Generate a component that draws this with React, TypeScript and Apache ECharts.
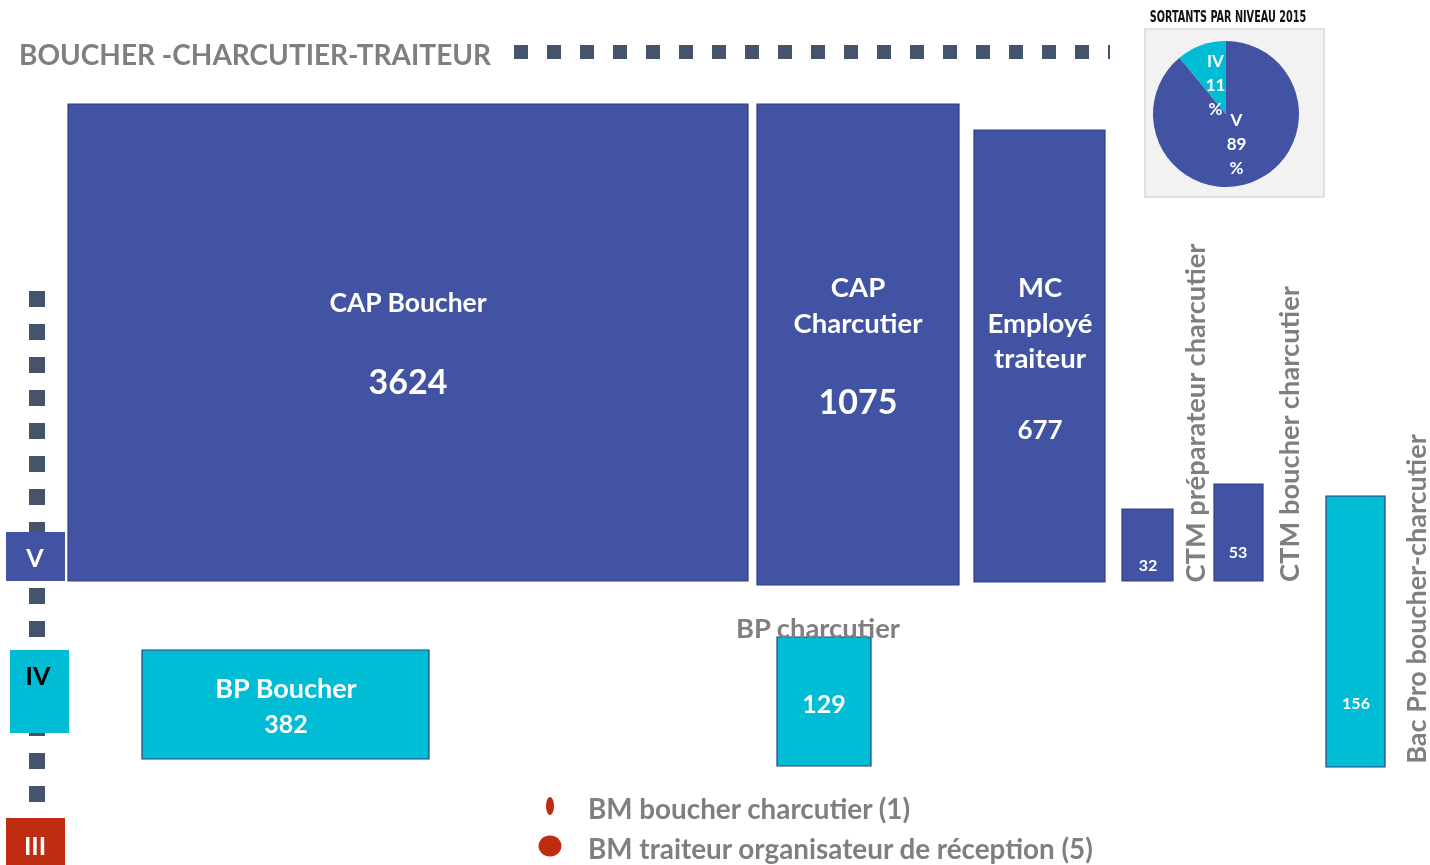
import React, { useEffect, useRef } from "react";
import * as echarts from "echarts";

// ---- data ----
const title = "BOUCHER -CHARCUTIER-TRAITEUR";
const names = [
  "CAP Boucher",
  "CAP\nCharcutier",
  "MC\nEmployé\ntraiteur",
  "CTM préparateur charcutier",
  "CTM boucher charcutier",
  "BP Boucher",
  "BP charcutier",
  "Bac Pro boucher-charcutier",
];
const values = [3624, 1075, 677, 32, 53, 382, 129, 156];
const levels = ["V", "V", "V", "V", "V", "IV", "IV", "IV"];
const levelNames = ["V", "IV", "III"];
const otherNames = ["BM boucher charcutier", "BM traiteur organisateur de réception"];
const otherValues = [1, 5];
const pieTitle = "SORTANTS PAR NIVEAU 2015";
const pieNames = ["V", "IV"];
const pieValues = [89, 11];

// ---- styles / layout ----
const BLUE = "#4153A2";
const CYAN = "#00BCD4";
const RED = "#BE2D12";
const GRAY = "#7F7F7F";
const DASH = "#44546A";
const FONT = "Lato, 'Open Sans', sans-serif";
const levelColor: Record<string, string> = { V: BLUE, IV: CYAN, III: RED };

type Lay = {
  box: number[];
  label: { x: number; y: number; size: number; lh?: number; rotate?: boolean; outside?: boolean };
  val: { x: number; y: number; size: number };
};
const layout: Lay[] = [
  { box: [68, 104, 748, 581], label: { x: 408, y: 302, size: 26.5 }, val: { x: 408, y: 380, size: 34 } },
  { box: [757, 104, 959, 585], label: { x: 858, y: 304, size: 27.5, lh: 36 }, val: { x: 858, y: 400, size: 34 } },
  { box: [974, 130, 1105, 582], label: { x: 1040, y: 322, size: 27.5, lh: 35.5 }, val: { x: 1040, y: 429, size: 26 } },
  { box: [1122, 509, 1173, 581], label: { x: 1194, y: 413, size: 27.3, lh: 28, rotate: true, outside: true }, val: { x: 1148, y: 564, size: 16 } },
  { box: [1214, 484, 1263, 581], label: { x: 1288, y: 434, size: 27.3, lh: 28, rotate: true, outside: true }, val: { x: 1238, y: 551, size: 16 } },
  { box: [142, 650, 429, 759], label: { x: 286, y: 687, size: 27 }, val: { x: 286, y: 723, size: 25 } },
  { box: [777, 637, 871, 766], label: { x: 818, y: 627, size: 27.3, outside: true }, val: { x: 824, y: 703, size: 25 } },
  { box: [1326, 496, 1385, 767], label: { x: 1415, y: 599, size: 27, lh: 27, rotate: true, outside: true }, val: { x: 1356, y: 702, size: 16 } },
];
const levelBoxes = [
  { r: [6, 532, 59, 49], tx: 35, ty: 557, color: "#fff" },
  { r: [10, 650, 59, 83], tx: 38, ty: 675, color: "#000" },
  { r: [6, 818, 59, 47], tx: 35, ty: 845, color: "#fff" },
];

export default function App() {
  const ref = useRef<HTMLDivElement>(null);
  useEffect(() => {
    document.body.style.margin = "0";
    const chart = echarts.init(ref.current!, null, { renderer: "svg" });

    const graphics: any[] = [];
    // title
    graphics.push({
      type: "text", x: 19, y: 54, z: 10,
      style: { text: title, fill: GRAY, font: `bold 28px ${FONT}`, align: "left", verticalAlign: "middle" },
    });
    // top dashed line
    graphics.push({
      type: "line", z: 1,
      shape: { x1: 514, y1: 52, x2: 1110, y2: 52 },
      style: { stroke: DASH, lineWidth: 14, lineDash: [14, 19], lineCap: "butt" },
    });
    // left dashed line
    graphics.push({
      type: "line", z: 1,
      shape: { x1: 37, y1: 291, x2: 37, y2: 805 },
      style: { stroke: DASH, lineWidth: 16, lineDash: [16, 17], lineCap: "butt" },
    });
    // level boxes
    levelNames.forEach((lv, i) => {
      const b = levelBoxes[i];
      graphics.push({
        type: "rect", z: 5,
        shape: { x: b.r[0], y: b.r[1], width: b.r[2], height: b.r[3] },
        style: { fill: levelColor[lv] },
      });
      graphics.push({
        type: "text", x: b.tx, y: b.ty, z: 6,
        style: { text: lv, fill: b.color, font: `bold 25px ${FONT}`, align: "center", verticalAlign: "middle" },
      });
    });
    // other diplomas legend
    otherNames.forEach((n, i) => {
      const cy = 806 + i * 40;
      graphics.push({
        type: "ellipse", z: 5,
        shape: { cx: 550, cy, rx: otherValues[i] === 1 ? 4 : 11.5, ry: otherValues[i] === 1 ? 9 : 10.5 },
        style: { fill: RED },
      });
      graphics.push({
        type: "text", x: 588, y: cy + 2, z: 6,
        style: { text: `${n} (${otherValues[i]})`, fill: GRAY, font: `bold 27.8px ${FONT}`, align: "left", verticalAlign: "middle" },
      });
    });
    // pie panel
    graphics.push({
      type: "rect", z: 0,
      shape: { x: 1145, y: 29, width: 179, height: 168 },
      style: { fill: "#F2F2F2", stroke: "#D9D9D9", lineWidth: 1.5 },
    });
    graphics.push({
      type: "text", x: 1228, y: 17, scaleX: 0.72, z: 6,
      style: { text: pieTitle, fill: "#111", font: `bold 15px 'DejaVu Sans Condensed', 'DejaVu Sans', sans-serif`, align: "center", verticalAlign: "middle" },
    });

    const pieData = pieNames.map((n, i) => ({ name: n, value: pieValues[i], itemStyle: { color: levelColor[n] } }));

    const option: any = {
      animation: false,
      grid: { left: 0, right: 0, top: 0, bottom: 0 },
      xAxis: { type: "value", min: 0, max: 1430, show: false },
      yAxis: { type: "value", min: 0, max: 865, inverse: true, show: false },
      graphic: graphics,
      series: [
        {
          type: "custom",
          z: 3,
          data: values.map((v, i) => ({ value: [i, v], name: names[i] })),
          renderItem: (params: any, api: any) => {
            const i = params.dataIndex;
            const L = layout[i];
            const p0 = api.coord([L.box[0], L.box[1]]);
            const p1 = api.coord([L.box[2], L.box[3]]);
            const fill = levelColor[levels[i]];
            const lp = api.coord([L.label.x, L.label.y]);
            const vp = api.coord([L.val.x, L.val.y]);
            const children: any[] = [
              {
                type: "rect",
                shape: { x: p0[0], y: p0[1], width: p1[0] - p0[0], height: p1[1] - p0[1] },
                style: { fill, stroke: "#2F3E86", lineWidth: 1.2 },
              },
              {
                type: "text",
                x: vp[0], y: vp[1],
                style: {
                  text: String(values[i]), fill: "#fff",
                  font: `bold ${L.val.size}px ${FONT}`, align: "center", verticalAlign: "middle",
                },
              },
              {
                type: "text",
                x: lp[0], y: lp[1], z2: 10,
                rotation: L.label.rotate ? Math.PI / 2 : 0,
                style: {
                  text: names[i], fill: L.label.outside ? GRAY : "#fff",
                  font: `bold ${L.label.size}px ${FONT}`, lineHeight: L.label.lh || L.label.size * 1.2,
                  align: "center", verticalAlign: "middle",
                },
              },
            ];
            return { type: "group", children };
          },
        },
        {
          type: "pie",
          center: [1226, 114],
          radius: 73,
          startAngle: 90,
          clockwise: true,
          z: 4,
          data: pieData,
          label: { show: false },
          labelLine: { show: false },
          itemStyle: { borderWidth: 0 },
          emphasis: { disabled: true },
        },
        {
          // label carrier: same slices, transparent, smaller radius so labels sit nearer the centre
          type: "pie",
          center: [1226, 114],
          radius: 56,
          startAngle: 90,
          clockwise: true,
          z: 5,
          silent: true,
          data: pieData.map((d) => ({ ...d, itemStyle: { color: "rgba(0,0,0,0)" } })),
          label: {
            show: true, position: "inside", formatter: "{b}\n{c}\n%",
            color: "#fff", fontFamily: FONT, fontWeight: "bold", fontSize: 17, lineHeight: 24,
          },
          labelLine: { show: false },
          itemStyle: { borderWidth: 0 },
          emphasis: { disabled: true },
        },
      ],
    };
    chart.setOption(option);
    return () => chart.dispose();
  }, []);
  return <div ref={ref} style={{ position: "fixed", left: 0, top: 0, width: 1430, height: 865 }} />;
}
